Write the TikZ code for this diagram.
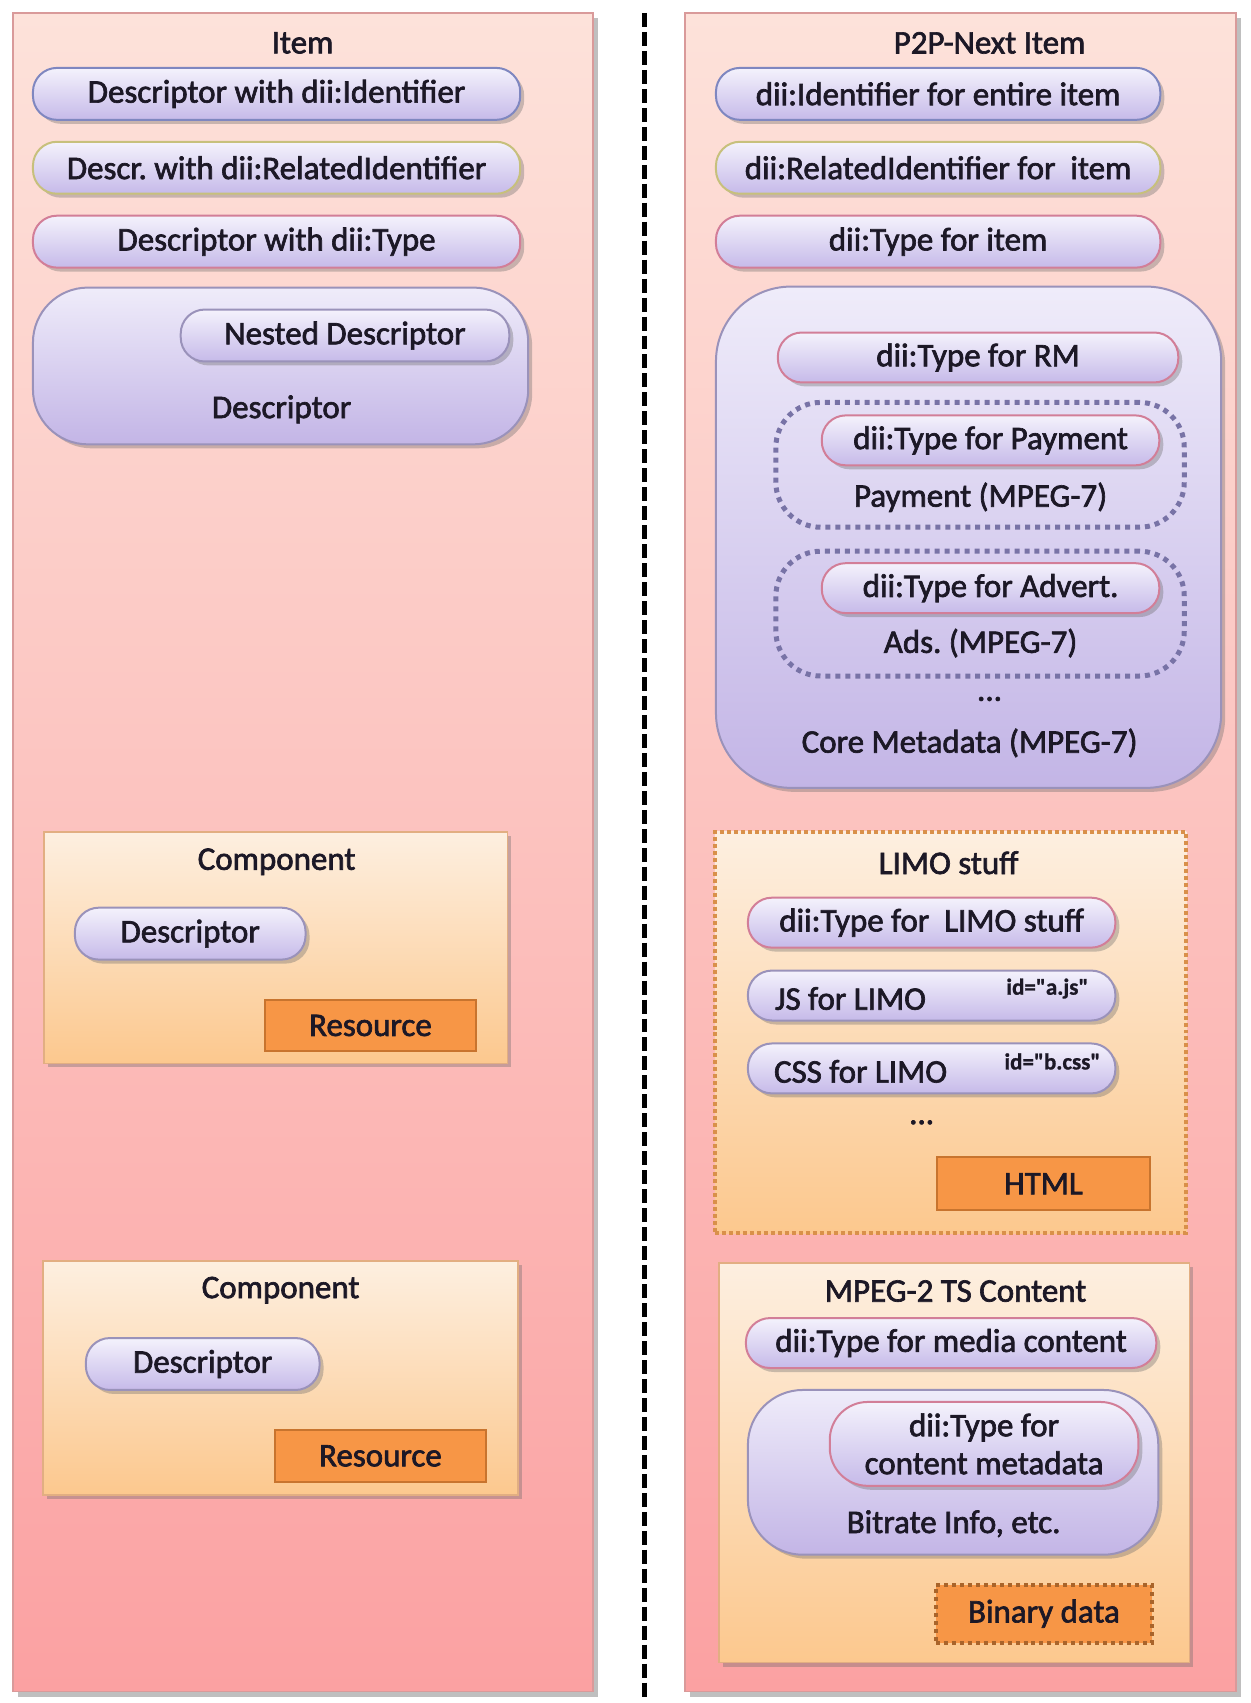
\documentclass[tikz,border=0pt]{standalone}
\usepackage{fontspec}
\setmainfont{Carlito}[FakeBold=2]
\newfontfamily\idfont{Carlito}[Ligatures=TeXOff, FakeBold=1]
\frenchspacing
\usetikzlibrary{shadows}

\definecolor{ink}{HTML}{1C1826}
\definecolor{panelTop}{HTML}{FDE2DA}
\definecolor{panelBot}{HTML}{FBA1A2}
\definecolor{panelLine}{HTML}{D99A9A}
\definecolor{compTop}{HTML}{FDEFE0}
\definecolor{compBot}{HTML}{FCC88E}
\definecolor{compLine}{HTML}{E2AE82}
\definecolor{resFill}{HTML}{F79646}
\definecolor{resLine}{HTML}{C8742E}
\definecolor{pillTop}{HTML}{F4F2FC}
\definecolor{pillBot}{HTML}{C6BAE9}
\definecolor{bigTop}{HTML}{EFECFA}
\definecolor{bigBot}{HTML}{C3B5E6}
\definecolor{idLine}{HTML}{7F87C0}
\definecolor{relLine}{HTML}{C7C07C}
\definecolor{typeLine}{HTML}{D27E98}
\definecolor{plainLine}{HTML}{9A92BA}
\definecolor{grpLine}{HTML}{7873A6}
\definecolor{limoLine}{HTML}{D9904A}
\definecolor{binLine}{HTML}{A9642A}

\begin{document}
\begin{tikzpicture}[x=1pt,y=-1pt,
  font=\fontsize{33}{38}\selectfont,
  box/.style={rectangle, inner sep=0pt, outer sep=0pt, text=ink},
  softshadow/.style={drop shadow={shadow xshift=4pt, shadow yshift=-4pt, opacity=.35, fill=black!60}},
  panel/.style={box, draw=panelLine, line width=1.5pt, top color=panelTop, bottom color=panelBot,
    drop shadow={shadow xshift=5pt, shadow yshift=-5pt, opacity=.45, fill=black!55}},
  comp/.style={box, draw=compLine, line width=1.5pt, top color=compTop, bottom color=compBot, softshadow},
  limo/.style={box, draw=limoLine, line width=4pt, dash pattern=on 4pt off 3pt,
    top color=compTop, bottom color=compBot},
  res/.style={box, fill=resFill, draw=resLine, line width=2pt},
  binbox/.style={box, fill=resFill, draw=binLine, line width=4pt, dash pattern=on 4pt off 4pt},
  pill/.style={box, rounded corners=24pt, top color=pillTop, bottom color=pillBot, line width=2pt,
    draw=plainLine, softshadow},
  idpill/.style={pill, draw=idLine},
  relpill/.style={pill, draw=relLine},
  typepill/.style={pill, draw=typeLine},
  bigdesc/.style={box, top color=bigTop, bottom color=bigBot, draw=plainLine, line width=2pt, softshadow},
  grp/.style={box, rounded corners=45pt, draw=grpLine, line width=5pt, dash pattern=on 5pt off 5pt},
  lbl/.style={inner sep=0pt, text=ink},
  idlbl/.style={inner sep=0pt, text=ink, font=\fontsize{23}{25}\selectfont\idfont\bfseries},
  sepline/.style={draw=black, line width=5pt, dash pattern=on 14pt off 5pt}
]
\path[fill=white] (0,0) rectangle (1252,1703);

% ---------- left panel: generic Item ----------
\node[panel, minimum width=581pt, minimum height=1681pt] (item) at (303.5,853.5) {};
\node[lbl] (itemT) at (303,43) {Item};
\node[idpill, minimum width=488pt, minimum height=52pt] (lid) at (277,94) {Descriptor with dii:Identifier};
\node[relpill, minimum width=488pt, minimum height=52pt] (lrel) at (277,168) {Descr. with dii:RelatedIdentifier};
\node[typepill, minimum width=488pt, minimum height=52pt] (ltype) at (277,242) {Descriptor with dii:Type};
\node[bigdesc, rounded corners=55pt, minimum width=496pt, minimum height=157pt] (ldesc) at (281,366.5) {};
\node[pill, minimum width=329pt, minimum height=52pt] (lnest) at (345.5,336) {Nested Descriptor};
\node[lbl] (ldescT) at (282,410) {Descriptor};

% component 1
\node[comp, minimum width=464pt, minimum height=232pt] (comp1) at (276,949) {};
\node[lbl] (comp1T) at (277,863) {Component};
\node[pill, minimum width=231pt, minimum height=52pt] (c1desc) at (190.5,935) {Descriptor};
\node[res, minimum width=212pt, minimum height=52pt] (c1res) at (371,1027) {Resource};

% component 2
\node[comp, minimum width=476pt, minimum height=234pt] (comp2) at (281,1380) {};
\node[lbl] (comp2T) at (281,1292) {Component};
\node[pill, minimum width=234pt, minimum height=52pt] (c2desc) at (203,1366) {Descriptor};
\node[res, minimum width=212pt, minimum height=52pt] (c2res) at (381,1458) {Resource};

% ---------- separator ----------
\coordinate (dtop) at (645,13);
\coordinate (dbot) at (645,1703);
\draw[sepline] (dtop) -- (dbot);

% ---------- right panel: P2P-Next Item ----------
\node[panel, minimum width=552pt, minimum height=1681pt] (pitem) at (962,853.5) {};
\node[lbl] (pitemT) at (991,43) {P2P-Next Item};
\node[idpill, minimum width=445pt, minimum height=52pt] (rid) at (939.5,94) {dii:Identifier for entire item};
\node[relpill, minimum width=445pt, minimum height=52pt] (rrel) at (939.5,168) {dii:RelatedIdentifier for\ \ item};
\node[typepill, minimum width=445pt, minimum height=52pt] (rtype) at (939.5,242) {dii:Type for item};

% core metadata
\node[bigdesc, rounded corners=75pt, minimum width=506pt, minimum height=502pt] (core) at (970,538) {};
\node[typepill, minimum width=401pt, minimum height=50pt] (rm) at (979.5,358) {dii:Type for RM};
\node[grp, minimum width=409pt, minimum height=125pt] (pay) at (981.5,465.5) {};
\node[typepill, minimum width=338pt, minimum height=50pt] (payT) at (992,441) {dii:Type for Payment};
\node[lbl] (payL) at (982,498) {Payment (MPEG-7)};
\node[grp, minimum width=409pt, minimum height=125pt] (ads) at (981.5,614.5) {};
\node[typepill, minimum width=338pt, minimum height=50pt] (adsT) at (992,589) {dii:Type for Advert.};
\node[lbl] (adsL) at (982,644) {Ads. (MPEG-7)};
\node[lbl] (coreDots) at (991,700) {...};
\node[lbl] (coreL) at (971,744) {Core Metadata (MPEG-7)};

% LIMO stuff
\node[limo, minimum width=472pt, minimum height=402pt] (limo) at (952,1034) {};
\node[lbl] (limoT) at (950,864) {LIMO stuff};
\node[typepill, minimum width=368pt, minimum height=50pt] (limoType) at (933,924) {dii:Type for\ \ LIMO stuff};
\node[pill, minimum width=368pt, minimum height=50pt] (js) at (933,997) {};
\node[lbl, anchor=west] (jsL) at (776,1000) {JS for LIMO};
\node[idlbl] (jsId) at (1049,990) {id="a.js"};
\node[pill, minimum width=368pt, minimum height=50pt] (css) at (933,1070) {};
\node[lbl, anchor=west] (cssL) at (775,1073) {CSS for LIMO};
\node[idlbl] (cssId) at (1054,1063) {id="b.css"};
\node[lbl] (limoDots) at (923,1124) {...};
\node[res, minimum width=214pt, minimum height=53pt] (html) at (1045,1185.5) {HTML};

% MPEG-2 TS content
\node[comp, minimum width=471pt, minimum height=400pt] (ts) at (955.5,1465) {};
\node[lbl] (tsT) at (957,1293) {MPEG-2 TS Content};
\node[typepill, minimum width=411pt, minimum height=50pt] (media) at (952.5,1345) {dii:Type for media content};
\node[bigdesc, rounded corners=55pt, minimum width=411pt, minimum height=165pt] (bitrate) at (954.5,1474.5) {};
\node[typepill, rounded corners=38pt, minimum width=309pt, minimum height=84pt, align=center] (meta) at (985.5,1446)
  {dii:Type for\\content metadata};
\node[lbl] (bitrateL) at (955,1526) {Bitrate Info, etc.};
\node[binbox, minimum width=217pt, minimum height=58pt] (bin) at (1045.5,1616) {Binary data};
\end{tikzpicture}
\end{document}
